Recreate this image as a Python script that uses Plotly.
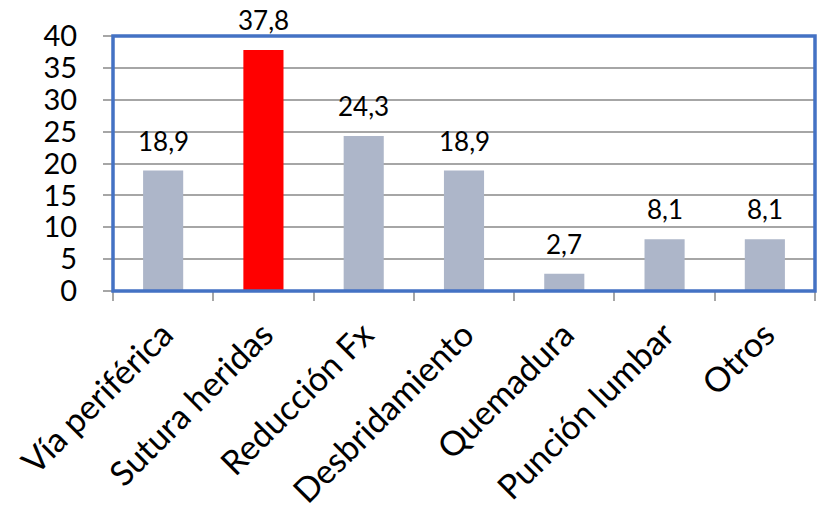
import plotly.graph_objects as go

categories = ["Vía periférica", "Sutura heridas", "Reducción Fx", "Desbridamiento",
              "Quemadura", "Punción lumbar", "Otros"]
values = [18.9, 37.8, 24.3, 18.9, 2.7, 8.1, 8.1]
bar_colors = ["#ADB6C9", "#FF0000", "#ADB6C9", "#ADB6C9", "#ADB6C9", "#ADB6C9", "#ADB6C9"]
y_ticks = [0, 5, 10, 15, 20, 25, 30, 35, 40]

labels = [f"{v:.1f}".replace(".", ",") for v in values]

FONT = "Lato"

fig = go.Figure(go.Bar(
    x=categories, y=values,
    marker=dict(color=bar_colors, line=dict(width=0)),
    width=0.4,
))

for c, v, t in zip(categories, values, labels):
    fig.add_annotation(x=c, y=v, text=t, showarrow=False, yanchor="bottom",
                       yshift=12, font=dict(family=FONT, size=26, color="black"))

fig.update_layout(
    width=821, height=510,
    margin=dict(l=113, r=6, t=36, b=219),
    paper_bgcolor="white", plot_bgcolor="white",
    showlegend=False,
    font=dict(family=FONT, color="black"),
)
fig.update_xaxes(
    tickangle=-45, tickfont=dict(family=FONT, size=34),
    ticks="outside", tickson="boundaries", ticklen=9, tickcolor="#A6A6A6", tickwidth=1.5,
    ticklabelstandoff=16, automargin=False,
    showline=False, showgrid=False,
)
fig.update_yaxes(
    range=[0, 40], tickvals=y_ticks, tickfont=dict(family=FONT, size=29),
    ticks="outside", ticklen=9, tickcolor="#A6A6A6", tickwidth=1.5,
    ticklabelstandoff=20, automargin=False,
    showgrid=True, gridcolor="#A6A6A6", gridwidth=1.5,
    showline=False, zeroline=False,
)
fig.add_shape(type="rect", xref="x domain", yref="y domain", x0=0, x1=1, y0=0, y1=1,
              line=dict(color="#4472C4", width=3.5), layer="above")

fig.write_html("out.html")
